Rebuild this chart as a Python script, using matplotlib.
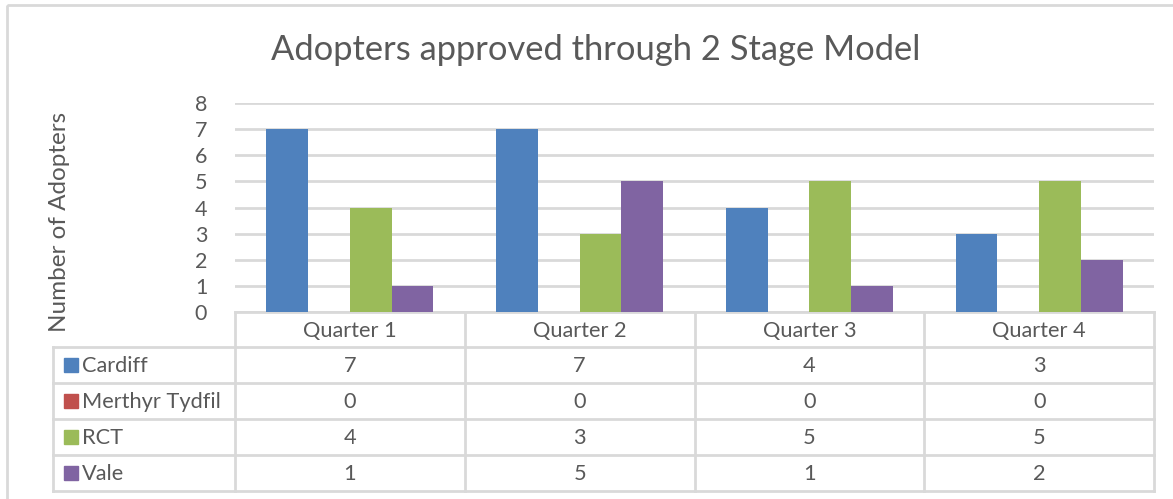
import matplotlib
matplotlib.use("Agg")
import matplotlib.pyplot as plt
from matplotlib.patches import Rectangle
import numpy as np

categories = ["Quarter 1", "Quarter 2", "Quarter 3", "Quarter 4"]
series_names = ["Cardiff", "Merthyr Tydfil", "RCT", "Vale"]
cardiff = [7, 7, 4, 3]
merthyr = [0, 0, 0, 0]
rct = [4, 3, 5, 5]
vale = [1, 5, 1, 2]
series_values = [cardiff, merthyr, rct, vale]
colors = ["#4F81BD", "#C0504D", "#9BBB59", "#8064A2"]
yticks = [0, 1, 2, 3, 4, 5, 6, 7, 8]

W, H = 1173, 499
plt.rcParams['font.family'] = ['Lato', 'DejaVu Sans']
fig = plt.figure(figsize=(W / 100, H / 100), dpi=100)
txt = "#595959"
grid = "#D9D9D9"

def fx(px):
    return px / W
def fy(py):
    return 1 - py / H

# plot area
L, R, T, B = 235, 1154, 103, 312
ax = fig.add_axes([fx(L), fy(B), fx(R) - fx(L), fy(T) - fy(B)])
n = len(series_names)
x = np.arange(len(categories))
bw = 1 / (n + 1.5)
for i, (vals, c) in enumerate(zip(series_values, colors)):
    ax.bar(x + (i - (n - 1) / 2) * bw, vals, width=bw, color=c, zorder=3)
ax.set_xlim(-0.5, len(categories) - 0.5)
ax.set_ylim(0, 8)
ax.set_yticks(yticks)
ax.set_yticklabels([str(t) for t in yticks], color=txt, fontsize=15.5)
ax.tick_params(axis='y', length=0, pad=20)
ax.set_xticks([])
ax.yaxis.grid(True, color=grid, linewidth=2, zorder=0)
for s in ax.spines.values():
    s.set_visible(False)
ax.set_facecolor("none")

# title & y label
fig.text(fx(596), fy(50), "Adopters approved through 2 Stage Model", ha="center", va="center",
         fontsize=24.8, color=txt)
fig.text(fx(59), fy(222), "Number of Adopters", rotation=90, ha="center", va="center",
         fontsize=17.5, color=txt)

# data table
tab = fig.add_axes([0, 0, 1, 1], zorder=-1)
tab.set_xlim(0, W)
tab.set_ylim(H, 0)
tab.axis("off")
tl = 53
rows_y = [312, 347, 383, 419, 455, 491]
col_x = [L + (R - L) * k / len(categories) for k in range(len(categories) + 1)]
lw = 2
tab.plot([L, R], [rows_y[0], rows_y[0]], color=grid, lw=lw)
for yy in rows_y[1:]:
    tab.plot([tl, R], [yy, yy], color=grid, lw=lw)
for xx in col_x:
    tab.plot([xx, xx], [rows_y[0], rows_y[-1]], color=grid, lw=lw)
tab.plot([tl, tl], [rows_y[1], rows_y[-1]], color=grid, lw=lw)
for k, cat in enumerate(categories):
    tab.text((col_x[k] + col_x[k + 1]) / 2, (rows_y[0] + rows_y[1]) / 2 + 1, cat,
             ha="center", va="center", fontsize=15.7, color=txt)
for r, (name, vals, c) in enumerate(zip(series_names, series_values, colors)):
    yc = (rows_y[r + 1] + rows_y[r + 2]) / 2
    tab.add_patch(Rectangle((64, yc - 7), 14, 14, color=c))
    tab.text(82, yc + 1, name, ha="left", va="center", fontsize=15.7, color=txt)
    for k, v in enumerate(vals):
        tab.text((col_x[k] + col_x[k + 1]) / 2, yc + 1, str(v), ha="center", va="center",
                 fontsize=15.7, color=txt)

tab.add_patch(Rectangle((7, 5), W + 20, H + 20, fill=False, edgecolor=grid, lw=2, clip_on=False))

fig.savefig("out.png", dpi=100, facecolor="white")
